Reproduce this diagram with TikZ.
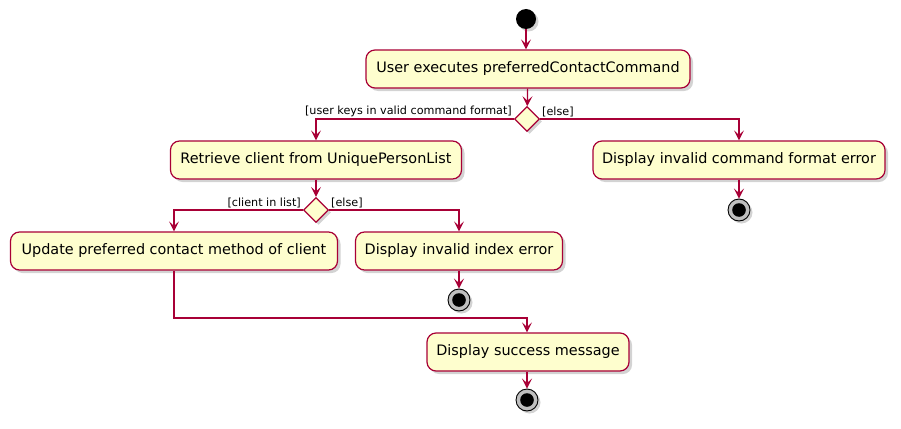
\documentclass[tikz,border=0pt]{standalone}
\usepackage{fontspec}
\setmainfont{DejaVu Sans}
\usetikzlibrary{shapes.geometric, arrows.meta, shadows}
\definecolor{umlred}{RGB}{168,0,54}
\definecolor{umlfill}{RGB}{254,254,206}
\tikzset{
  action/.style={rectangle, draw=umlred, fill=umlfill, rounded corners=9pt, line width=1.2pt, minimum height=38pt, inner xsep=6pt, font=\fontsize{14.4}{16}\selectfont, drop shadow={shadow xshift=3pt, shadow yshift=-3pt, opacity=0.35}},
  branch/.style={diamond, aspect=1, draw=umlred, fill=umlfill, minimum size=25pt, inner sep=0pt, line width=1.2pt, drop shadow={shadow xshift=2.5pt, shadow yshift=-2.5pt, opacity=0.35}},
  initial/.style={circle, fill=black, minimum size=20pt, inner sep=0pt, drop shadow={shadow xshift=2.5pt, shadow yshift=-2.5pt, opacity=0.35}},
  final/.style={circle, draw=black, fill=black!25, minimum size=22pt, inner sep=0pt, line width=0.9pt, drop shadow={shadow xshift=2.5pt, shadow yshift=-2.5pt, opacity=0.35}, path picture={\fill[black] (path picture bounding box.center) circle (6.8pt);}},
  guard/.style={font=\fontsize{11.2}{13}\selectfont, text=black, inner sep=1.5pt},
  arrow/.style={-{Stealth[length=10pt, width=10pt, inset=4.5pt]}, line width=1.2pt, color=umlred}
}
\begin{document}
\begin{tikzpicture}[x=1pt, y=-1pt]
  \useasboundingbox (0,0) rectangle (901,428);

  % start and first action
  \node[initial] (start) at (526,19) {};
  \node[action, minimum width=324pt] (exec) at (528,69) {User executes preferredContactCommand};
  \node[branch] (fmtcheck) at (527,119) {};

  % format valid / invalid
  \node[action, minimum width=291pt] (retrieve) at (316,160) {Retrieve client from UniquePersonList};
  \node[action, minimum width=292pt] (fmterror) at (739,160) {Display invalid command format error};
  \node[final] (endfmt) at (739,210) {};

  % client in list / not
  \node[branch] (listcheck) at (316,210) {};
  \node[action, minimum width=327pt] (update) at (174,251) {Update preferred contact method of client};
  \node[action, minimum width=207pt] (idxerror) at (459,251) {Display invalid index error};
  \node[final] (endidx) at (459,300) {};

  % success
  \coordinate (merge) at (527,318);
  \node[action, minimum width=202pt] (success) at (528,352) {Display success message};
  \node[final] (endok) at (527,400) {};

  % Connectors
  \draw[arrow] (start) -- (start |- exec.north);
  \draw[arrow] (exec) -- (fmtcheck);
  \draw[arrow] (fmtcheck.west) node[guard, anchor=south east] {[user keys in valid command format]} -| (retrieve);
  \draw[arrow] (fmtcheck.east) node[guard, anchor=south west] {[else]} -| (fmterror);
  \draw[arrow] (fmterror) -- (endfmt);
  \draw[arrow] (retrieve) -- (listcheck);
  \draw[arrow] (listcheck.west) node[guard, anchor=south east] {[client in list]} -| (update);
  \draw[arrow] (listcheck.east) node[guard, anchor=south west] {[else]} -| (idxerror);
  \draw[arrow] (idxerror) -- (endidx);
  \draw[arrow] (update.south) |- (merge) -- (merge |- success.north);
  \draw[arrow] (success.south -| endok) -- (endok);
\end{tikzpicture}
\end{document}
